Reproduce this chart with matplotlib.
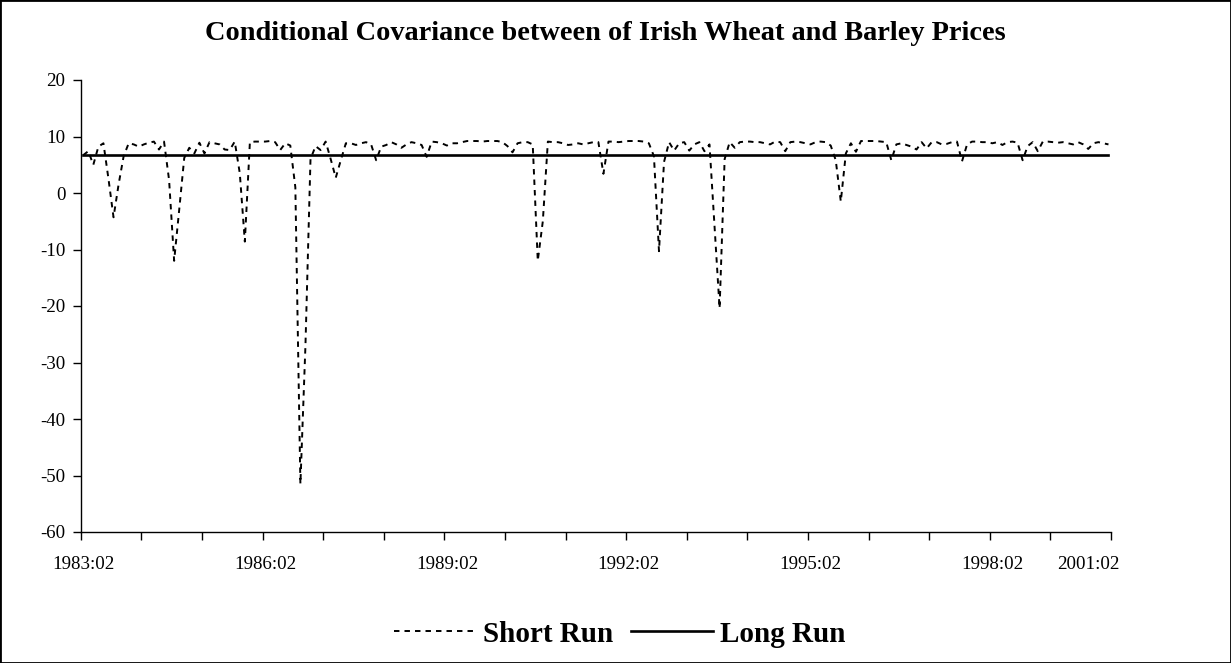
import numpy as np
import matplotlib
matplotlib.use("Agg")
import matplotlib.pyplot as plt
from matplotlib.patches import Rectangle
from matplotlib.ticker import FixedLocator, NullFormatter

plt.rcParams["axes.unicode_minus"] = False

short_run = [
    6.7, 7.4, 5.0, 8.2, 8.8, 2.5, -4.3, 1.5, 6.5, 8.8,
    8.6, 8.2, 8.6, 8.9, 9.1, 7.7, 9.1, 2.3, -12.0, -3.0,
    6.2, 8.0, 7.0, 8.9, 7.0, 9.0, 8.8, 8.6, 7.7, 7.6,
    9.1, 3.5, -8.6, 9.0, 9.1, 9.1, 9.1, 9.2, 9.0, 7.6,
    8.8, 8.4, 1.0, -51.5, -27.0, 6.0, 8.3, 7.6, 9.1, 6.0,
    2.7, 5.8, 8.8, 8.8, 8.5, 8.8, 9.0, 8.6, 5.8, 8.2,
    8.5, 9.0, 8.6, 8.0, 8.6, 9.0, 8.8, 8.5, 6.4, 9.1,
    9.0, 8.8, 8.4, 8.8, 8.8, 9.0, 9.2, 9.2, 9.2, 9.1,
    9.2, 9.2, 9.2, 9.0, 8.3, 7.2, 8.8, 9.0, 9.0, 8.6,
    -12.0, -5.0, 9.1, 9.0, 9.0, 8.8, 8.5, 8.6, 8.8, 8.6,
    8.8, 9.0, 9.0, 3.4, 9.1, 9.1, 9.0, 9.1, 9.2, 9.2,
    9.2, 9.1, 8.8, 6.5, -10.3, 5.5, 9.0, 7.5, 8.8, 9.0,
    7.5, 8.6, 9.0, 7.4, 8.6, -6.0, -20.4, 6.0, 9.0, 8.0,
    9.0, 9.1, 9.1, 9.0, 9.0, 8.8, 8.6, 9.1, 9.0, 7.4,
    9.0, 9.1, 9.0, 8.8, 8.6, 9.0, 9.1, 9.0, 8.4, 5.8,
    -1.5, 7.0, 8.8, 7.3, 9.2, 9.2, 9.2, 9.2, 9.1, 9.0,
    5.8, 8.6, 8.8, 8.5, 8.2, 7.7, 9.0, 7.9, 9.0, 9.0,
    8.6, 8.7, 9.0, 9.1, 5.6, 8.6, 9.1, 9.1, 9.0, 9.0,
    8.8, 9.0, 8.5, 9.0, 9.1, 8.9, 5.8, 8.3, 9.0, 7.4,
    9.1, 9.1, 9.0, 8.9, 9.0, 8.8, 8.6, 9.0, 8.6, 7.8,
    8.8, 9.0, 8.8, 8.6,
]
long_run_level = 6.7
long_run = [long_run_level] * len(short_run)

tick_labels = ["1983:02", "1986:02", "1989:02", "1992:02", "1995:02", "1998:02", "2001:02"]
tick_label_idx = [0, 36, 72, 108, 144, 180, 199]

title = "Conditional Covariance between of Irish Wheat and Barley Prices"
serif = ["Liberation Serif", "DejaVu Serif"]

# ---- figure ----
fig = plt.figure(figsize=(12.31, 6.63), dpi=100)
W, H = 1231, 663
left, right, top, bottom = 80.7, 1111, 80, 532
ax = fig.add_axes([left / W, 1 - bottom / H, (right - left) / W, (bottom - top) / H])

x = np.arange(len(short_run))
ax.plot(x, short_run, color="black", lw=1.4, dashes=(2.8, 2.6), label="Short Run")
ax.plot(x, long_run, color="black", lw=1.9, label="Long Run")

ax.set_xlim(-0.5, len(short_run) - 0.5)
ax.set_ylim(-60, 20)
ax.set_yticks(np.arange(-60, 21, 10))

# x: labels every 36 months, tick marks every 12 months between categories
ax.xaxis.set_major_locator(FixedLocator(tick_label_idx))
ax.set_xticklabels(tick_labels)
ax.xaxis.set_minor_locator(FixedLocator(np.arange(-0.5, len(short_run), 12)))
ax.xaxis.set_minor_formatter(NullFormatter())
ax.tick_params(axis="x", which="major", length=0, pad=17)
ax.tick_params(axis="x", which="minor", length=6, width=1, direction="out", color="black")
ax.tick_params(axis="y", which="major", length=6, width=1, direction="out", pad=5)

for lab in ax.get_xticklabels() + ax.get_yticklabels():
    lab.set_family(serif)
    lab.set_fontsize(13.6)

for s in ("top", "right"):
    ax.spines[s].set_visible(False)
for s in ("left", "bottom"):
    ax.spines[s].set_linewidth(1.0)
    ax.spines[s].set_color("black")

fig.text(605 / W, 1 - 34 / H, title, ha="center", va="center",
         fontsize=20.4, fontweight="bold", family=serif)

fig.legend(loc="center", bbox_to_anchor=(620 / W, 1 - 634 / H), ncol=2, frameon=False,
           prop={"family": serif, "weight": "bold", "size": 21},
           handlelength=2.8, handletextpad=0.25, columnspacing=0.6)

fig.patches.append(Rectangle((0, 0), 1, 1, transform=fig.transFigure, fill=False,
                             lw=2, ec="black"))

fig.savefig("out.png", dpi=100)
